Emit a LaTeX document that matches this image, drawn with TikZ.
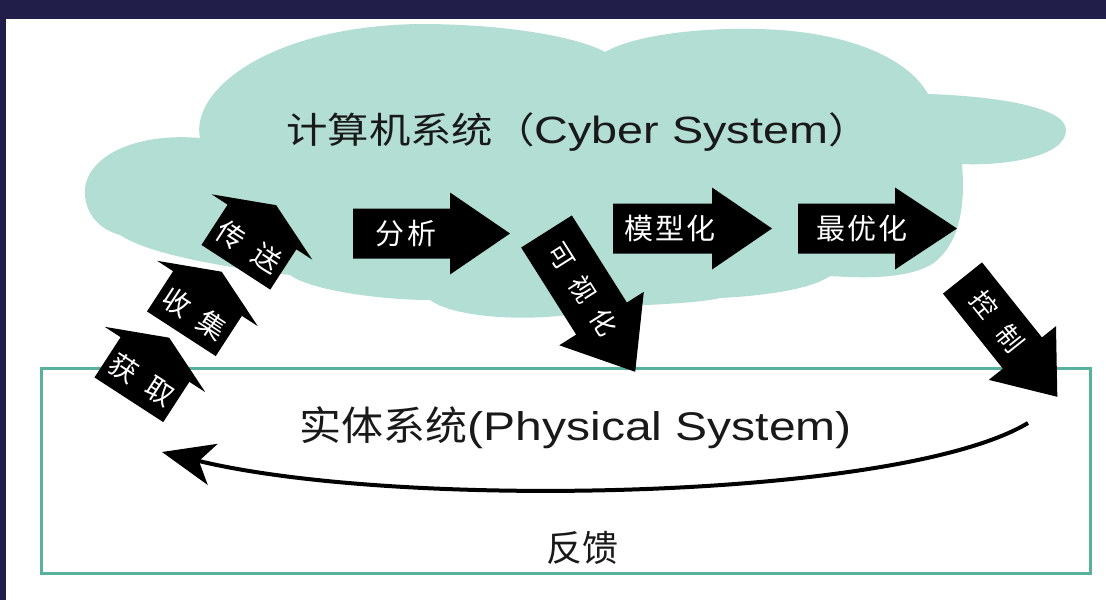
\documentclass[tikz,border=0pt]{standalone}
\usepackage{fontspec}
\usepackage{graphicx}
\newfontfamily\cjk{Noto Sans CJK SC}
\newfontfamily\lat{Liberation Sans}
\usetikzlibrary{arrows.meta}
\definecolor{framec}{RGB}{34,30,74}
\definecolor{cloudc}{RGB}{178,222,212}
\definecolor{tealc}{RGB}{88,176,158}
\definecolor{inkc}{RGB}{25,25,25}
\begin{document}
\begin{tikzpicture}[x=1pt,y=-1pt,
  blk/.style={fill=black},
  lbl/.style={text=white,font=\cjk\fontsize{29}{31}\selectfont,inner sep=0pt},
  hlbl/.style={text=white,font=\cjk\fontsize{28}{30}\selectfont,inner sep=0pt,transform shape},
  dlbl/.style={text=white,font=\cjk\fontsize{26}{28}\selectfont,inner sep=0pt,transform shape},
  big/.style={text=inkc,inner sep=0pt},
  fb/.style={line width=4pt,-{Stealth[length=52pt,width=42pt,inset=14pt]}},
  physbox/.style={draw=tealc,line width=3pt,inner sep=0pt,minimum width=1049pt,minimum height=205pt}
]
\useasboundingbox (0,0) rectangle (1106,600);
\fill[white] (0,0) rectangle (1106,600);
\fill[framec] (0,0) rectangle (1106,19);
\fill[framec] (0,0) rectangle (6,600);

% cloud
\fill[cloudc] (85,195)
 .. controls (82,160) and (130,132) .. (200,138)
 .. controls (190,90) and (270,26) .. (420,24)
 .. controls (510,24) and (580,38) .. (605,52)
 .. controls (640,32) and (720,26) .. (780,30)
 .. controls (860,36) and (910,62) .. (928,94)
 .. controls (990,96) and (1066,106) .. (1066,130)
 .. controls (1066,158) and (1000,166) .. (962,164)
 .. controls (965,200) and (962,240) .. (935,262)
 .. controls (910,280) and (860,278) .. (830,276)
 .. controls (810,290) and (760,296) .. (720,298)
 .. controls (690,305) and (620,305) .. (600,308)
 .. controls (560,322) and (460,322) .. (430,300)
 .. controls (380,300) and (310,290) .. (290,275)
 .. controls (230,268) and (150,255) .. (120,235)
 .. controls (95,228) and (86,210) .. (85,195) -- cycle;

\node[big,anchor=west] (cyber) at (286,132) {\fontsize{36}{40}\selectfont\scalebox{1.15}[1]{\cjk 计算机系统（}\scalebox{1.23}[1]{\lat\fontsize{38}{40}\selectfont Cyber System}\scalebox{1.15}[1]{\cjk\fontsize{36}{40}\selectfont ）}};

% physical system box
\node[physbox] (phys) at (565.5,470.5) {};
\node[big] (physlbl) at (576,428) {\scalebox{1.05}[1]{\cjk\fontsize{40}{44}\selectfont 实体系统}\scalebox{1.2}[1]{\lat\fontsize{40}{44}\selectfont (Physical System)}};
\node[big] (fankui) at (582,548) {\cjk\fontsize{36}{40}\selectfont 反馈};

% house arrows (acquire, collect, transmit)
\begin{scope}[shift={(155,359.5)},rotate=-33]
  \fill[blk] (-41,0) -- (-60,0) -- (0,-26) -- (60,0) -- (41,0) -- (41,48) -- (-41,48) -- cycle;
  \node[hlbl] (huoqu) at (0,24) {获\hspace{14pt}取};
\end{scope}
\begin{scope}[shift={(207.5,293.5)},rotate=-33]
  \fill[blk] (-41,0) -- (-60,0) -- (0,-26) -- (60,0) -- (41,0) -- (41,48) -- (-41,48) -- cycle;
  \node[hlbl] (shouji) at (0,24) {收\hspace{14pt}集};
\end{scope}
\begin{scope}[shift={(262,227)},rotate=-33]
  \fill[blk] (-41,0) -- (-60,0) -- (0,-26) -- (60,0) -- (41,0) -- (41,48) -- (-41,48) -- cycle;
  \node[hlbl] (chuansong) at (0,24) {传\hspace{14pt}送};
\end{scope}

% horizontal arrows
\begin{scope}[shift={(353,233.5)}]
  \fill[blk] (0,-25) -- (97,-25) -- (97,-41) -- (157,0) -- (97,41) -- (97,25) -- (0,25) -- cycle;
  \node[lbl] (fenxi) at (53,0) {分\hspace{4pt}析};
\end{scope}
\begin{scope}[shift={(613,228.5)}]
  \fill[blk] (0,-25) -- (99,-25) -- (99,-41) -- (159,0) -- (99,41) -- (99,25) -- (0,25) -- cycle;
  \node[lbl] (moxing) at (57,0) {模\hspace{2pt}型\hspace{2pt}化};
\end{scope}
\begin{scope}[shift={(798,228.5)}]
  \fill[blk] (0,-25) -- (97,-25) -- (97,-41) -- (159,0) -- (97,41) -- (97,25) -- (0,25) -- cycle;
  \node[lbl] (youhua) at (64,0) {最\hspace{2pt}优\hspace{2pt}化};
\end{scope}

% diagonal arrows
\begin{scope}[shift={(546.5,231.5)},rotate=-57.7]
  \fill[blk] (0,-30) -- (103,-30) -- (103,-50) -- (166,0) -- (103,50) -- (103,30) -- (0,30) -- cycle;
  \node[dlbl] (keshi) at (68,0) {可\hspace{13pt}视\hspace{13pt}化};
\end{scope}
\begin{scope}[shift={(962.5,278)},rotate=-51.4]
  \fill[blk] (0,-25) -- (96,-25) -- (96,-43) -- (152,0) -- (96,43) -- (96,25) -- (0,25) -- cycle;
  \node[dlbl] (kongzhi) at (56,0) {控\hspace{17pt}制};
\end{scope}

% feedback
\coordinate (fbs) at (1028,423);
\coordinate (fbe) at (162,452);
\draw[fb] (fbs) .. controls (900,500) and (400,510) .. (fbe);
\end{tikzpicture}
\end{document}
